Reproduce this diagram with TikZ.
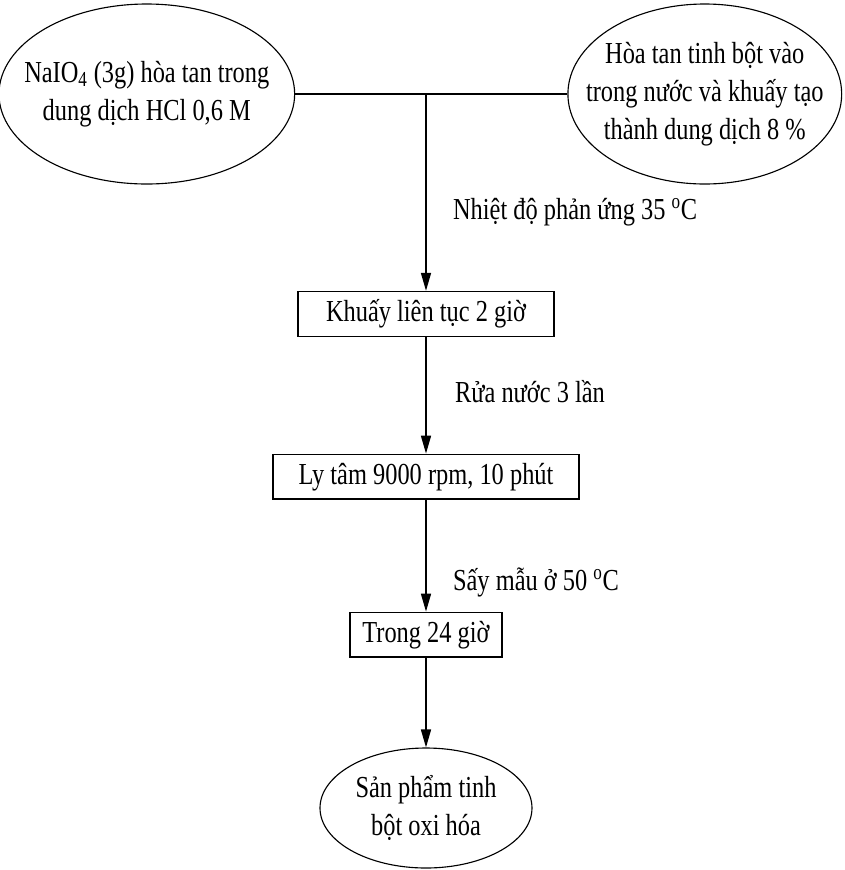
\documentclass[tikz,border=0pt]{standalone}
\usepackage{fontspec}
\setmainfont[FakeStretch=0.8]{Liberation Serif}
\usetikzlibrary{arrows.meta, shapes.geometric}

\tikzset{
    buoc/.style={draw, line width=1.1pt, inner sep=0pt, minimum height=1.12cm},
    nguyenlieu/.style={draw, ellipse, line width=0.8pt, inner sep=0pt, align=center},
    muiten/.style={-{Triangle[length=0.45cm, width=0.25cm]}, line width=1.1pt},
    ghichu/.style={anchor=west, inner sep=0pt}
}

\begin{document}
\begin{tikzpicture}[font=\fontsize{21.7pt}{27pt}\selectfont]

\useasboundingbox (0, 0) rectangle (21.125, -21.75);

% === Nguyên liệu ban đầu ===
\node[nguyenlieu, inner xsep=-0.45cm, minimum height=4.5cm] (nai) at (3.67, -2.35)
    {NaIO\textsubscript{4} (3g) hòa tan trong\\dung dịch HCl 0,6 M};
\node[nguyenlieu, inner xsep=-0.55cm, minimum height=4.5cm] (tinhbot) at (17.62, -2.35)
    {Hòa tan tinh bột vào\\trong nước và khuấy tạo\\thành dung dịch 8 \%};

% Đường nối hai nguyên liệu
\draw[line width=1.1pt] (nai.east) -- (tinhbot.west);
\coordinate (tron) at (10.65, -2.35);

% === Các bước xử lý ===
\node[buoc, minimum width=6.4cm] (khuay) at (10.65, -7.85) {Khuấy liên tục 2 giờ};
\node[buoc, minimum width=7.65cm] (lytam) at (10.65, -11.92) {Ly tâm 9000 rpm, 10 phút};
\node[buoc, minimum width=3.8cm] (say) at (10.65, -15.87) {Trong 24 giờ};

% Sản phẩm
\node[nguyenlieu, minimum width=5.3cm, minimum height=3cm] (sanpham) at (10.65, -20.2)
    {Sản phẩm tinh\\bột oxi hóa};

% === Mũi tên ===
\draw[muiten] (tron) -- (khuay);
\draw[muiten] (khuay) -- (lytam);
\draw[muiten] (lytam) -- (say);
\draw[muiten] (say) -- (sanpham);

% Điều kiện
\node[ghichu] (nhietdo) at (11.32, -5.3) {Nhiệt độ phản ứng 35 \textsuperscript{o}C};
\node[ghichu] (rua) at (11.37, -9.8) {Rửa nước 3 lần};
\node[ghichu] (saymau) at (11.32, -14.55) {Sấy mẫu ở 50 \textsuperscript{o}C};

\end{tikzpicture}
\end{document}
